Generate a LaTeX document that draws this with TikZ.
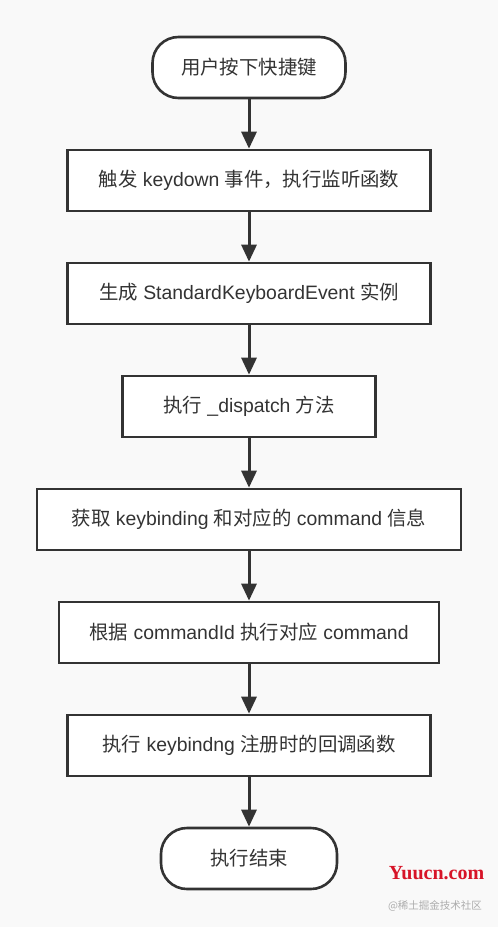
\documentclass[tikz,border=0pt]{standalone}
\usepackage{fontspec}
\setmainfont{Liberation Sans}
\newfontfamily\cjkfont{Noto Sans CJK SC}
\newfontfamily\markfont{Liberation Serif}
\newcommand{\zh}[1]{{\cjkfont #1}}
\usetikzlibrary{positioning, arrows.meta}
\definecolor{linegray}{RGB}{51,51,51}
\definecolor{bggray}{RGB}{249,249,249}
\definecolor{markred}{RGB}{215,20,40}
\tikzset{
	>={Triangle[length=17pt,width=15pt]}, % filled arrow heads
	node distance=113pt, % centre to centre, used with on grid
	stepbox/.style={draw=linegray, line width=2.6pt, fill=white, minimum height=61pt,
		inner sep=0pt, text=linegray, font=\fontsize{19.4}{21}\selectfont},
	terminal/.style={stepbox, rounded corners=26pt},
	flow/.style={->, draw=linegray, line width=3pt},
}
\begin{document}
\begin{tikzpicture}[x=1pt, y=1pt, on grid]
        % background and page size
        \fill[bggray] (0,0) rectangle (498,-927);
        \useasboundingbox (0,0) rectangle (498,-927);

        % Nodes stacked from top to bottom
        \node[terminal, minimum width=193pt] (press) at (249,-67.5) {\zh{用户按下快捷键}};
        \node[stepbox, minimum width=363pt, below=of press] (keydown) {\zh{触发} keydown \zh{事件，执行监听函数}};
        \node[stepbox, minimum width=363pt, below=of keydown] (event) {\zh{生成} StandardKeyboardEvent \zh{实例}};
        \node[stepbox, minimum width=253pt, below=of event] (dispatch) {\zh{执行} \_dispatch \zh{方法}};
        \node[stepbox, minimum width=424pt, below=of dispatch] (lookup) {\zh{获取} keybinding \zh{和对应的} command \zh{信息}};
        \node[stepbox, minimum width=380pt, below=of lookup] (run) {\zh{根据} commandId \zh{执行对应} command};
        \node[stepbox, minimum width=363pt, below=of run] (callback) {\zh{执行} keybindng \zh{注册时的回调函数}};
        \node[terminal, minimum width=176pt, below=of callback] (done) {\zh{执行结束}};

        % Edges between the steps
        \draw[flow] (press) -- (keydown);
        \draw[flow] (keydown) -- (event);
        \draw[flow] (event) -- (dispatch);
        \draw[flow] (dispatch) -- (lookup);
        \draw[flow] (lookup) -- (run);
        \draw[flow] (run) -- (callback);
        \draw[flow] (callback) -- (done);

        % watermarks
        \node[font=\markfont\bfseries\fontsize{20}{21}\selectfont, text=markred] (site) at (436.5,-873) {Yuucn.com};
        \node[font=\cjkfont\fontsize{10.5}{12}\selectfont, text=gray!65] (forum) at (435,-906) {@稀土掘金技术社区};
    \end{tikzpicture}
\end{document}
